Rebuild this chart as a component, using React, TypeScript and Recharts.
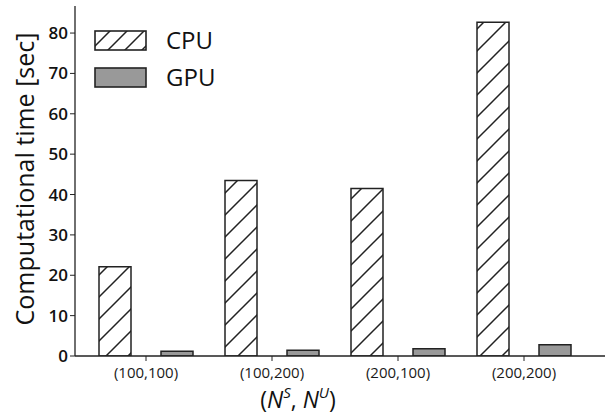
import React from "react";
import { BarChart, Bar, XAxis, YAxis, Legend, Label } from "recharts";

const categories = ["(100,100)", "(100,200)", "(200,100)", "(200,200)"];
const cpuTimes = [22.1, 43.5, 41.5, 82.7];
const gpuTimes = [1.2, 1.4, 1.8, 2.8];
const yTicks = [0, 10, 20, 30, 40, 50, 60, 70, 80];
const yMax = 86.7;

const data = categories.map((c, i) => ({ name: c, CPU: cpuTimes[i], GPU: gpuTimes[i] }));

const FONT = "'Open Sans', 'DejaVu Sans', sans-serif";

const LegendContent = (props: any) => {
  const { payload } = props;
  return (
    <svg width={200} height={80} style={{ overflow: "visible" }}>
      {(payload || []).map((p: any, i: number) => (
        <g key={p.value} transform={`translate(0, ${i * 37})`}>
          <rect
            x={1}
            y={1}
            width={51}
            height={19}
            fill={p.value === "CPU" ? "url(#hatchLegend)" : "#999999"}
            stroke="#222"
            strokeWidth={1.6}
          />
          <text x={72} y={19} fontSize={24} fontFamily={FONT} fill="#111">
            {p.value}
          </text>
        </g>
      ))}
    </svg>
  );
};

const XTitle = (props: any) => {
  const { viewBox } = props;
  const cx = 298;
  const y = viewBox.y + 52;
  return (
    <text x={cx} y={y} textAnchor="middle" fontSize={23} fontFamily={FONT} fill="#111">
      (<tspan fontStyle="italic">N</tspan>
      <tspan fontSize={15} dy={-10} fontStyle="italic">S</tspan>
      <tspan dy={10}>, </tspan>
      <tspan fontStyle="italic">N</tspan>
      <tspan fontSize={15} dy={-10} fontStyle="italic">U</tspan>
      <tspan dy={10}>)</tspan>
    </text>
  );
};

export default function App() {
  return (
    <div style={{ position: "fixed", left: 0, top: 0, width: 605, height: 416, background: "#fff" }}>
      <BarChart
        width={605}
        height={416}
        data={data}
        margin={{ top: 6, right: 0, bottom: 0, left: 0 }}
        barGap={30}
        barSize={32}
      >
        <defs>
          <pattern id="hatch" patternUnits="userSpaceOnUse" width={22} height={22}>
            <rect width={22} height={22} fill="#fff" />
            <path d="M-2,2 L2,-2 M0,22 L22,0 M20,24 L24,20" stroke="#222" strokeWidth={1.5} />
          </pattern>
          <pattern id="hatchLegend" patternUnits="userSpaceOnUse" width={17} height={17}>
            <rect width={17} height={17} fill="#fff" />
            <path d="M-2,2 L2,-2 M0,17 L17,0 M15,19 L19,15" stroke="#222" strokeWidth={1.5} />
          </pattern>
        </defs>
        <XAxis
          dataKey="name"
          height={60}
          padding={{ left: 8, right: 18 }}
          tickLine={{ stroke: "#222" }}
          tickSize={5}
          axisLine={{ stroke: "#222", strokeWidth: 1.3 }}
          tick={{ fontSize: 15, fontFamily: FONT, fill: "#1a1a1a", dy: 4 }}
        >
          <Label content={<XTitle />} />
        </XAxis>
        <XAxis
          xAxisId="top"
          dataKey="name"
          orientation="top"
          height={0}
          tick={false}
          tickLine={false}
          axisLine={{ stroke: "#888", strokeWidth: 1.5 }}
        />
        <YAxis
          width={75}
          domain={[0, yMax]}
          ticks={yTicks}
          allowDataOverflow
          tickLine={{ stroke: "#222" }}
          tickSize={5}
          axisLine={{ stroke: "#222", strokeWidth: 1.3 }}
          tick={{ fontSize: 17, fontFamily: FONT, fill: "#111", fontWeight: 600 }}
        >
          <Label
            value="Computational time [sec]"
            angle={-90}
            position="insideLeft"
            offset={0}
            style={{ textAnchor: "middle", fontSize: 25, fontFamily: FONT, fill: "#111" }}
            dx={25}
            dy={-2}
          />
        </YAxis>
        <Legend
          layout="horizontal"
          verticalAlign="middle"
          align="center"
          content={<LegendContent />}
          wrapperStyle={{ position: "absolute", left: 94, top: 30, width: 200, height: 80 }}
        />
        <Bar dataKey="CPU" fill="url(#hatch)" stroke="#222" strokeWidth={1.5} isAnimationActive={false} />
        <Bar dataKey="GPU" fill="#999999" stroke="#222" strokeWidth={1.5} isAnimationActive={false} />
      </BarChart>
    </div>
  );
}
